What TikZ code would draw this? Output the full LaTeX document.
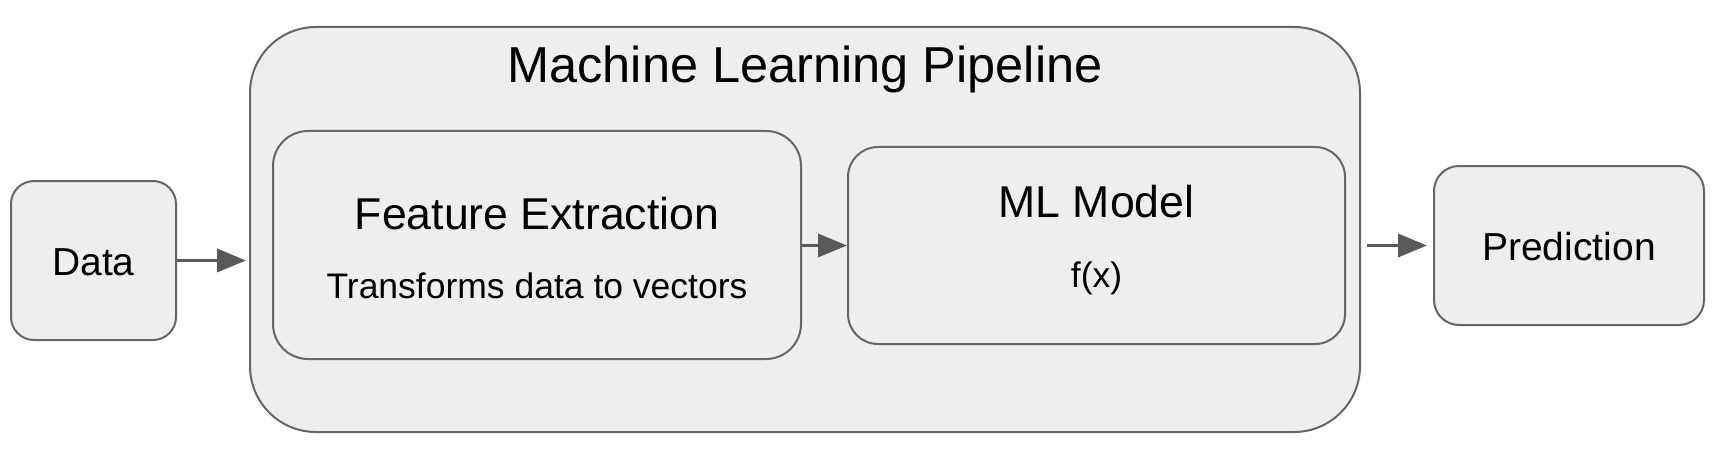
\documentclass[tikz,border=0pt]{standalone}
\usepackage{fontspec}
\setmainfont{Liberation Sans}
\usetikzlibrary{arrows.meta}
\definecolor{boxfill}{HTML}{EEEEEE}
\definecolor{boxline}{HTML}{666666}
\definecolor{arrowcol}{HTML}{595959}
\newcommand{\fs}[1]{\fontsize{#1}{#1}\selectfont}
\tikzset{
  box/.style={draw=boxline, fill=boxfill, line width=2pt, rectangle, inner sep=0pt},
  lbl/.style={anchor=base, inner sep=0pt, text=black},
  flow/.style={draw=arrowcol, line width=3.5pt, -{Triangle[length=29pt,width=23pt]}, shorten >=0pt}
}
\begin{document}
\begin{tikzpicture}[x=1pt,y=-1pt]
\useasboundingbox (0,0) rectangle (1724,468);
% boxes
\node[box, rounded corners=23pt, minimum width=165pt, minimum height=159pt] (data) at (93.5,260.5) {};
\node[box, rounded corners=66pt, minimum width=1110pt, minimum height=405pt] (pipe) at (805,229.5) {};
\node[box, rounded corners=35pt, minimum width=528pt, minimum height=228pt] (fe) at (537,245) {};
\node[box, rounded corners=30pt, minimum width=497pt, minimum height=197pt] (ml) at (1096.5,245.5) {};
\node[box, rounded corners=25pt, minimum width=270pt, minimum height=159pt] (pred) at (1569,245.5) {};
% labels
\node[lbl, font=\fs{39}] (datat) at (93.5,275) {Data};
\node[lbl, font=\fs{50.5}] (title) at (805,83) {Machine Learning Pipeline};
\node[lbl, font=\fs{44.6}] (fet) at (537,229) {Feature Extraction};
\node[lbl, font=\fs{35.5}] (fes) at (537,298) {Transforms data to vectors};
\node[lbl, font=\fs{44.6}] (mlt) at (1096.5,217) {ML Model};
\node[lbl, font=\fs{35.5}] (mls) at (1096.5,287) {f(x)};
\node[lbl, font=\fs{39}] (predt) at (1569,260) {Prediction};
% connectors
\coordinate (p1) at ([xshift=-3pt]pipe.west |- data.east);
\draw[flow] (data.east) -- (p1);
\draw[flow] (fe.east |- ml.west) -- (ml.west);
\coordinate (p2) at ([xshift=6pt]pipe.east |- pred.west);
\coordinate (p3) at ([xshift=-6pt]pred.west);
\draw[flow] (p2) -- (p3);
\end{tikzpicture}
\end{document}
